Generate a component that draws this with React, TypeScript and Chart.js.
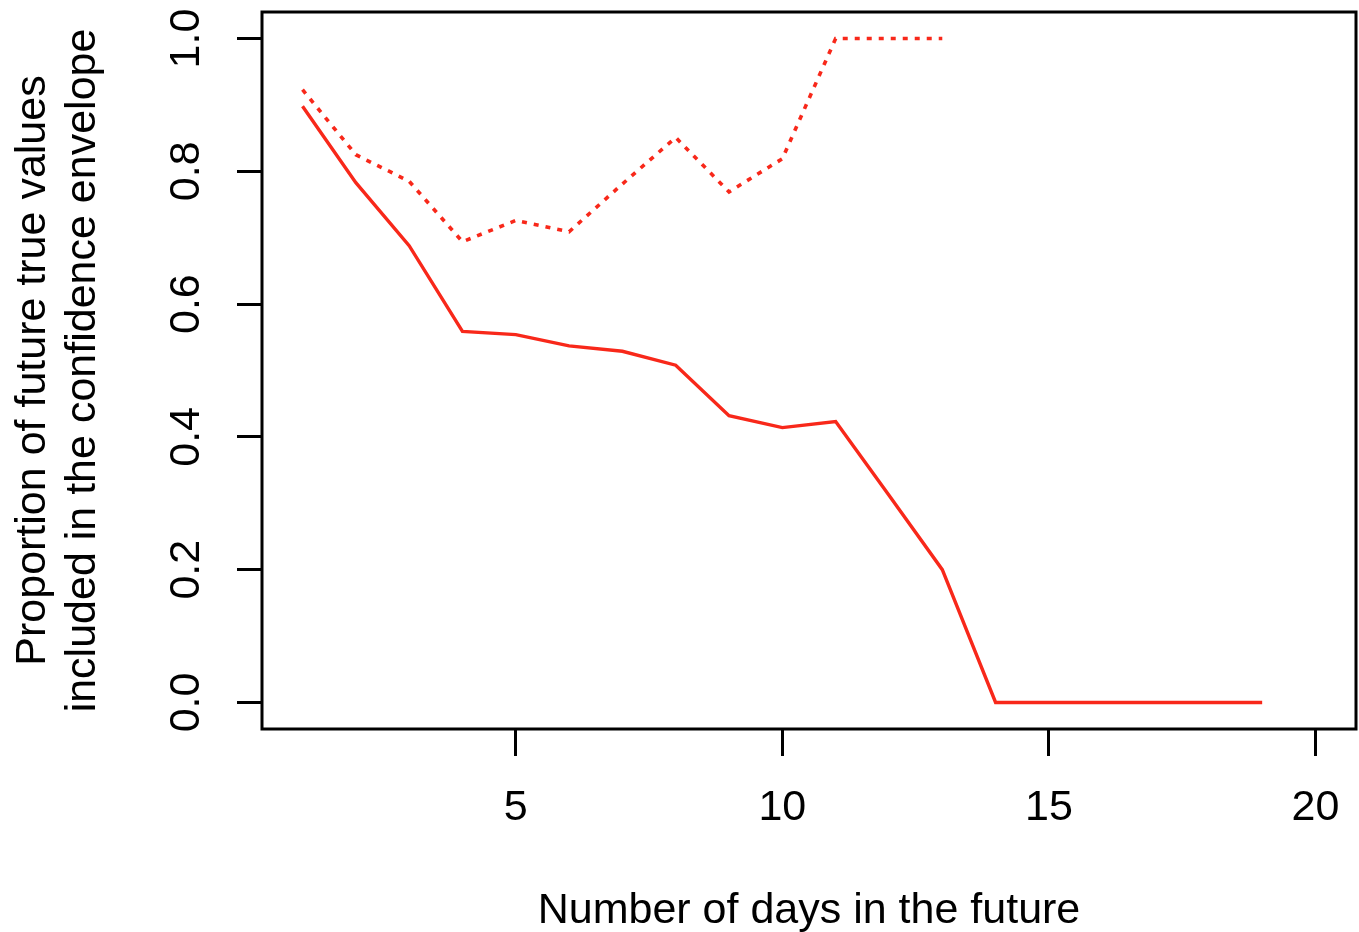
import React, { useEffect, useRef } from "react";
import { Chart, registerables } from "chart.js";

Chart.register(...registerables);

const days: number[] = [1, 2, 3, 4, 5, 6, 7, 8, 9, 10, 11, 12, 13, 14, 15, 16, 17, 18, 19];
const solidValues: number[] = [0.898, 0.783, 0.688, 0.559, 0.554, 0.537, 0.529, 0.508, 0.432, 0.414, 0.423, 0.312, 0.2, 0, 0, 0, 0, 0, 0];
const dottedDays: number[] = [1, 2, 3, 4, 5, 6, 7, 8, 9, 10, 11, 12, 13];
const dottedValues: number[] = [0.923, 0.825, 0.785, 0.694, 0.726, 0.709, 0.781, 0.851, 0.769, 0.819, 1, 1, 1];
const xTicks: number[] = [5, 10, 15, 20];
const yTicks: number[] = [0, 0.2, 0.4, 0.6, 0.8, 1.0];
const yTickLabels: string[] = ["0.0", "0.2", "0.4", "0.6", "0.8", "1.0"];
const xTitle = "Number of days in the future";
const yTitle = ["Proportion of future true values", "included in the confidence envelope"];

const FONT = "'Liberation Sans', Arial, Helvetica, sans-serif";
const RED = "#f8281a";

export default function App() {
  const ref = useRef<HTMLCanvasElement | null>(null);

  useEffect(() => {
    if (!ref.current) return;
    const boxPlugin = {
      id: "rbox",
      afterDraw(chart: any) {
        const { ctx, chartArea } = chart;
        ctx.save();
        ctx.strokeStyle = "#000";
        ctx.lineWidth = 3;
        ctx.strokeRect(chartArea.left, chartArea.top, chartArea.right - chartArea.left, chartArea.bottom - chartArea.top);
        const ys = chart.scales.y;
        ctx.fillStyle = "#000";
        ctx.font = `43px ${FONT}`;
        ctx.textAlign = "center";
        ctx.textBaseline = "alphabetic";
        yTicks.forEach((v, i) => {
          const py = ys.getPixelForValue(v);
          ctx.save();
          ctx.translate(199, py);
          ctx.rotate(-Math.PI / 2);
          ctx.fillText(yTickLabels[i], 0, 0);
          ctx.restore();
        });
        ctx.restore();
      },
    };

    const chart = new Chart(ref.current, {
      type: "scatter",
      data: {
        datasets: [
          {
            data: days.map((d, i) => ({ x: d, y: solidValues[i] })),
            showLine: true,
            borderColor: RED,
            borderWidth: 3.4,
            pointRadius: 0,
            fill: false,
          },
          {
            data: dottedDays.map((d, i) => ({ x: d, y: dottedValues[i] })),
            showLine: true,
            borderColor: RED,
            borderWidth: 3.6,
            borderDash: [5, 7],
            pointRadius: 0,
            fill: false,
          },
        ],
      },
      options: {
        animation: false,
        responsive: false,
        devicePixelRatio: 1,
        layout: { padding: { top: 12, right: 3, left: 0, bottom: 0 } },
        plugins: { legend: { display: false }, tooltip: { enabled: false } },
        scales: {
          x: {
            type: "linear",
            min: 0.24,
            max: 20.76,
            afterBuildTicks: (s: any) => {
              s.ticks = xTicks.map((v) => ({ value: v }));
            },
            afterFit: (s: any) => {
              s.height = 203;
              s.paddingLeft = 0;
              s.paddingRight = 0;
            },
            grid: { drawOnChartArea: false, drawTicks: true, tickLength: 27, color: "#000", lineWidth: 3 },
            border: { display: false },
            ticks: {
              color: "#000",
              font: { family: FONT, size: 43 },
              padding: 26,
              maxRotation: 0,
              autoSkip: false,
              callback: (v: any) => String(v),
            },
            title: {
              display: true,
              text: xTitle,
              color: "#000",
              font: { family: FONT, size: 43, lineHeight: 1.2 },
              padding: { top: 0, bottom: -5 },
            },
          },
          y: {
            type: "linear",
            min: -0.04,
            max: 1.04,
            afterBuildTicks: (s: any) => {
              s.ticks = yTicks.map((v) => ({ value: v }));
            },
            afterFit: (s: any) => {
              s.width = 262;
              s.paddingTop = 0;
              s.paddingBottom = 0;
            },
            grid: { drawOnChartArea: false, drawTicks: true, tickLength: 25, color: "#000", lineWidth: 3 },
            border: { display: false },
            ticks: { display: false },
            title: {
              display: true,
              text: yTitle,
              color: "#000",
              font: { family: FONT, size: 43, lineHeight: 1.17 },
              padding: { top: 8, bottom: 0 },
            },
          },
        },
      },
      plugins: [boxPlugin],
    } as any);
    return () => chart.destroy();
  }, []);

  return (
    <div style={{ position: "absolute", left: 0, top: 0, width: 1359, height: 932, background: "#fff" }}>
      <canvas ref={ref} width={1359} height={932} style={{ display: "block" }} />
    </div>
  );
}
